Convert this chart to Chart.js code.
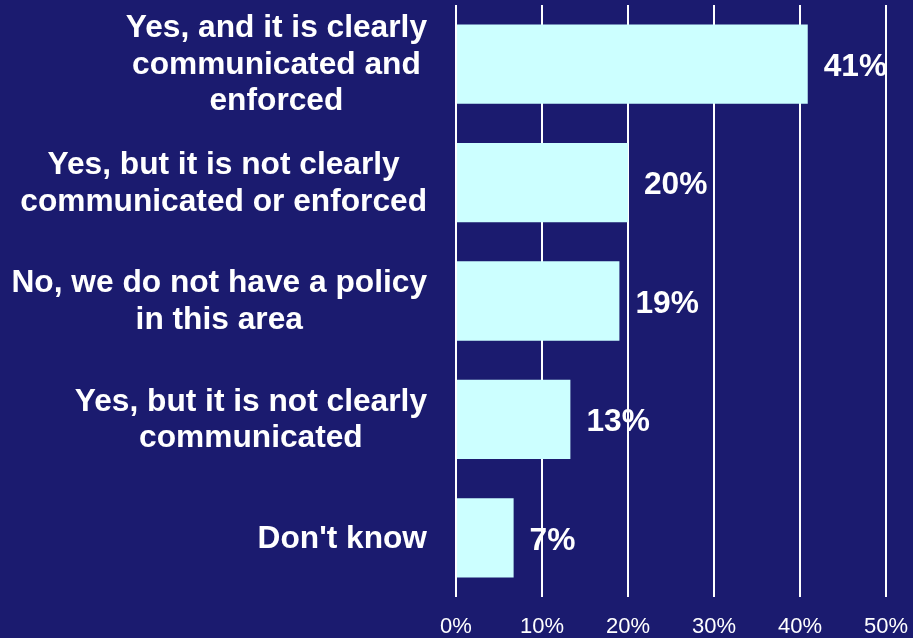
<!DOCTYPE html>
<html>
<head>
<meta charset="utf-8">
<script src="https://cdn.jsdelivr.net/npm/chart.js@4"></script>
<style>
  html, body { margin: 0; padding: 0; background: #1b1b6f; overflow: hidden; }
  #wrap { width: 913px; height: 638px; position: relative; }
</style>
</head>
<body>
<div id="wrap"><canvas id="c"></canvas></div>
<script>
const categories = [
  ["Yes, and it is clearly", "communicated and", "enforced"],
  ["Yes, but it is not clearly", "communicated or enforced"],
  ["No, we do not have a policy", "in this area"],
  ["Yes, but it is not clearly", "communicated"],
  ["Don't know"]
];
const values = [40.9, 20.0, 19.0, 13.3, 6.7];
const valueLabels = ["41%", "20%", "19%", "13%", "7%"];
const xTicks = [0, 10, 20, 30, 40, 50];

const FONT = "'Liberation Sans', Arial, Helvetica, sans-serif";
const BG = '#1b1b6f';

const bgPlugin = {
  id: 'bg',
  beforeDraw(chart) {
    const ctx = chart.ctx;
    ctx.save();
    ctx.fillStyle = BG;
    ctx.fillRect(0, 0, chart.width, chart.height);
    ctx.restore();
  }
};

const labelPlugin = {
  id: 'labels',
  afterDatasetsDraw(chart) {
    const ctx = chart.ctx;
    const y = chart.scales.y;
    const x = chart.scales.x;
    ctx.save();
    ctx.fillStyle = '#ffffff';
    ctx.font = 'bold 31.7px ' + FONT;
    ctx.textBaseline = 'middle';
    const lineH = 36.5;
    const rightEdge = chart.chartArea.left - 29;
    categories.forEach((lines, i) => {
      const cy = y.getPixelForValue(i);
      const widths = lines.map(l => ctx.measureText(l).width);
      const maxW = Math.max(...widths);
      const cx = rightEdge - maxW / 2;
      ctx.textAlign = 'center';
      const startY = cy - (lines.length - 1) * lineH / 2;
      lines.forEach((l, k) => ctx.fillText(l, cx, startY + k * lineH + 1));
      ctx.textAlign = 'left';
      ctx.fillText(valueLabels[i], x.getPixelForValue(values[i]) + 16, cy + 3);
    });
    ctx.restore();
  }
};

new Chart(document.getElementById('c'), {
  type: 'bar',
  data: {
    labels: categories,
    datasets: [{
      data: values,
      backgroundColor: '#ccffff',
      borderWidth: 0,
      barPercentage: 0.67,
      categoryPercentage: 1.0
    }]
  },
  options: {
    indexAxis: 'y',
    responsive: true,
    maintainAspectRatio: false,
    animation: false,
    devicePixelRatio: 1,
    layout: { padding: { left: 456, right: 27, top: 5, bottom: 0 } },
    plugins: { legend: { display: false }, tooltip: { enabled: false } },
    scales: {
      x: {
        min: 0, max: 50,
        afterBuildTicks(axis) { axis.ticks = xTicks.map(v => ({ value: v })); },
        afterFit(scale) {
          scale.height = 41;
          scale.paddingLeft = 0;
          scale.paddingRight = 0;
        },
        grid: { color: '#ffffff', lineWidth: 2, drawTicks: false },
        border: { display: false },
        ticks: {
          color: '#ffffff',
          font: { family: FONT, size: 22 },
          padding: 17,
          maxRotation: 0,
          autoSkip: false,
          callback: v => v + '%'
        }
      },
      y: {
        display: false
      }
    }
  },
  plugins: [bgPlugin, labelPlugin]
});
</script>
</body>
</html>
